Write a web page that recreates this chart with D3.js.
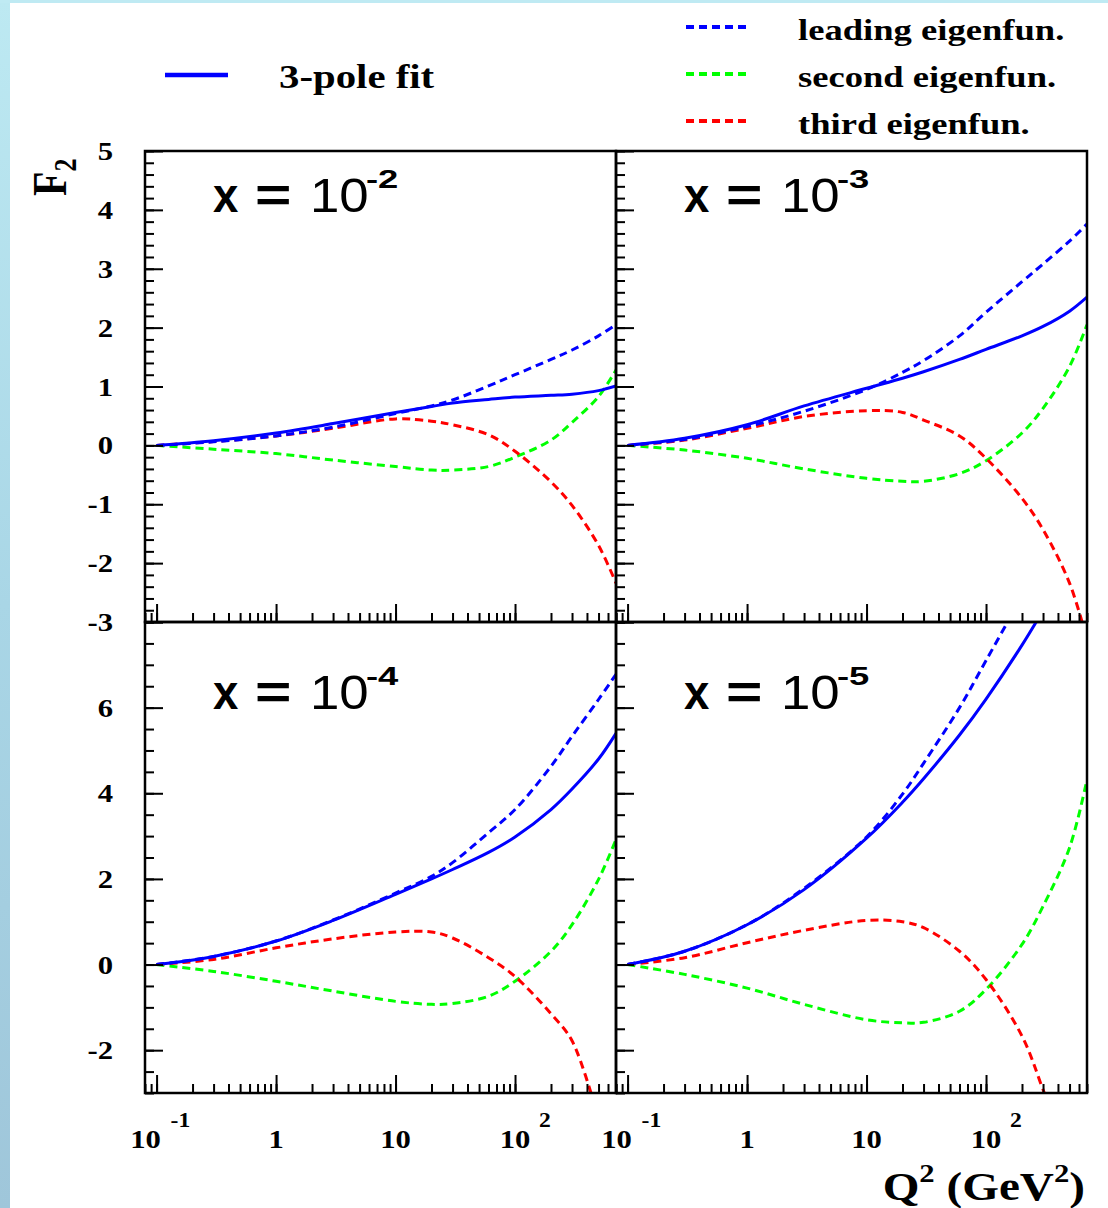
<!DOCTYPE html>
<html><head><meta charset="utf-8">
<script src="https://cdn.jsdelivr.net/npm/d3@7"></script>
<style>body{margin:0;background:#fff;} svg{display:block;}</style>
</head><body><svg id="c" width="1108" height="1208"></svg>
<script>
// ---------- data ----------
const Q2 = [0.1, 0.3, 1, 3, 10, 20, 30, 60, 100, 200, 300, 500, 700];

// x = 10^-2
const fitA   = [0, 0.08, 0.21, 0.37, 0.56, 0.66, 0.72, 0.78, 0.82, 0.85, 0.87, 0.93, 1.01];
const leadA  = [0, 0.06, 0.16, 0.31, 0.54, 0.67, 0.77, 1.01, 1.20, 1.46, 1.62, 1.86, 2.05];
const secA   = [0, -0.065, -0.14, -0.25, -0.36, -0.42, -0.42, -0.36, -0.20, 0.09, 0.39, 0.83, 1.28];
const thirdA = [0, 0.065, 0.16, 0.29, 0.45, 0.41, 0.35, 0.18, -0.10, -0.62, -1.02, -1.70, -2.34];
// x = 10^-3
const fitB   = [0, 0.12, 0.35, 0.67, 0.97, 1.14, 1.25, 1.46, 1.63, 1.86, 2.02, 2.28, 2.52];
const leadB  = [0, 0.10, 0.32, 0.58, 0.95, 1.24, 1.44, 1.86, 2.26, 2.78, 3.08, 3.47, 3.76];
const secB   = [0, -0.08, -0.22, -0.40, -0.56, -0.61, -0.61, -0.48, -0.26, 0.21, 0.63, 1.34, 2.05];
const thirdB = [0, 0.09, 0.29, 0.49, 0.59, 0.56, 0.43, 0.16, -0.22, -0.90, -1.43, -2.34, -3.3];
// x = 10^-4
const fitC   = [0, 0.19, 0.55, 1.03, 1.64, 2.00, 2.22, 2.62, 2.98, 3.62, 4.10, 4.80, 5.40];
const leadC  = [0, 0.19, 0.55, 1.04, 1.67, 2.06, 2.38, 3.08, 3.62, 4.63, 5.33, 6.19, 6.78];
const secC   = [0, -0.16, -0.39, -0.62, -0.86, -0.93, -0.91, -0.74, -0.39, 0.31, 0.93, 1.99, 2.92];
const thirdC = [0, 0.12, 0.39, 0.60, 0.76, 0.76, 0.62, 0.16, -0.28, -1.15, -1.78, -3.6, null];
// x = 10^-5
const fitD   = [0, 0.31, 0.93, 1.75, 2.95, 3.79, 4.34, 5.36, 6.20, 7.46, 8.27, null, null];
const leadD  = [0, 0.31, 0.93, 1.78, 2.98, 3.98, 4.70, 6.00, 7.10, 8.60, null, null, null];
const secD   = [0, -0.23, -0.55, -0.93, -1.29, -1.36, -1.35, -1.09, -0.58, 0.47, 1.36, 2.73, 4.32];
const thirdD = [0, 0.16, 0.51, 0.80, 1.03, 1.00, 0.86, 0.31, -0.35, -1.67, -2.92, -4.6, null];

const panelExp = ["-2", "-3", "-4", "-5"];
const legendSolid = ["3-pole fit"];
const legendDashed = ["leading eigenfun.", "second eigenfun.", "third eigenfun."];
const topYTickLabels = [-3, -2, -1, 0, 1, 2, 3, 4, 5];
const bottomYTickLabels = [-2, 0, 2, 4, 6];
const xTickLabels = [
  {v: 0.1, base: "10", sup: "-1"},
  {v: 1, base: "1", sup: ""},
  {v: 10, base: "10", sup: ""},
  {v: 100, base: "10", sup: "2"}
];

// ---------- drawing ----------
const svg = d3.select("#c");
const SERIF = "'Liberation Serif','Times New Roman',serif";
const SANS = "'Liberation Sans',Arial,sans-serif";
const colors = {fit: "#0000ff", lead: "#0000ff", sec: "#00ff00", third: "#ff0000"};

const defs = svg.append("defs");
const lg = defs.append("linearGradient").attr("id", "side").attr("x1", 0).attr("y1", 0).attr("x2", 0).attr("y2", 1);
lg.append("stop").attr("offset", "0%").attr("stop-color", "#bde9f2");
lg.append("stop").attr("offset", "50%").attr("stop-color", "#a9d6e6");
lg.append("stop").attr("offset", "100%").attr("stop-color", "#9fc6da");
svg.append("rect").attr("width", 1108).attr("height", 1208).attr("fill", "#fff");
svg.append("rect").attr("x", 0).attr("y", 0).attr("width", 10).attr("height", 1208).attr("fill", "url(#side)");
svg.append("rect").attr("x", 0).attr("y", 0).attr("width", 1108).attr("height", 3).attr("fill", "#bfeaf3");

function txt(g, x, y, s, size, o = {}) {
  return g.append("text")
    .attr("transform", `translate(${x},${y}) scale(${o.sx || 1.18},1)`)
    .attr("font-family", o.family || SERIF)
    .attr("font-weight", o.weight || "bold")
    .attr("font-size", size)
    .attr("text-anchor", o.anchor || "start")
    .attr("fill", "#000")
    .text(s);
}

const colX = [145, 616], rowY = [151, 622], PW = 471, PH = 471;
const yDomains = [[-3, 5], [-3, 8]];
const yMinor = [d3.range(-30, 51, 2).map(v => v / 10), d3.range(-6, 17).map(v => v / 2)];
const yMajor = [d3.range(-3, 6), [-2, 0, 2, 4, 6, 8]];
const seriesSets = [
  {fit: fitA, lead: leadA, sec: secA, third: thirdA},
  {fit: fitB, lead: leadB, sec: secB, third: thirdB},
  {fit: fitC, lead: leadC, sec: secC, third: thirdC},
  {fit: fitD, lead: leadD, sec: secD, third: thirdD}
];

seriesSets.forEach((S, i) => {
  const col = i % 2, row = Math.floor(i / 2);
  const g = svg.append("g").attr("transform", `translate(${colX[col]},${rowY[row]})`);
  const x = d3.scaleLog().domain([0.08, 700]).range([0, PW]);
  const y = d3.scaleLinear().domain(yDomains[row]).range([PH, 0]);
  const clipId = "clip" + i;
  defs.append("clipPath").attr("id", clipId).append("rect").attr("width", PW).attr("height", PH);

  const line = d3.line()
    .defined(d => d[1] != null)
    .x(d => x(d[0])).y(d => y(d[1]))
    .curve(d3.curveCatmullRom.alpha(0.5));
  const cg = g.append("g").attr("clip-path", `url(#${clipId})`);
  ["sec", "third", "lead", "fit"].forEach(k => {
    cg.append("path")
      .attr("d", line(Q2.map((q, j) => [q, S[k][j]])))
      .attr("fill", "none").attr("stroke", colors[k])
      .attr("stroke-width", 3)
      .attr("stroke-dasharray", k === "fit" ? null : "8,5");
  });

  // ticks
  const xt = x.ticks();
  const xMaj = xt.filter(v => Math.abs(Math.log10(v) - Math.round(Math.log10(v))) < 1e-9);
  const styleAxis = a => { a.select(".domain").remove(); a.selectAll("line").attr("stroke", "#000").attr("stroke-width", 2); };
  g.append("g").attr("transform", `translate(0,${PH})`)
    .call(d3.axisBottom(x).tickValues(xt).tickSize(-9).tickFormat("")).call(styleAxis);
  g.append("g").attr("transform", `translate(0,${PH})`)
    .call(d3.axisBottom(x).tickValues(xMaj).tickSize(-18).tickFormat("")).call(styleAxis);
  g.append("g").call(d3.axisLeft(y).tickValues(yMinor[row]).tickSize(-9).tickFormat("")).call(styleAxis);
  g.append("g").call(d3.axisLeft(y).tickValues(yMajor[row]).tickSize(-18).tickFormat("")).call(styleAxis);

  g.append("rect").attr("width", PW).attr("height", PH)
    .attr("fill", "none").attr("stroke", "#000").attr("stroke-width", 2.5);

  // panel label  x = 10^-n
  const by = row === 0 ? 212 : 709;
  txt(g, 68, by - rowY[row], "x", 48, {family: SANS, weight: "bold", sx: 0.95});
  txt(g, 110, by - rowY[row], "=", 48, {family: SANS, weight: "bold", sx: 1.3});
  txt(g, 165, by - rowY[row], "10", 48, {family: SANS, weight: "normal", sx: 1.1});
  txt(g, 221, by - 24 - rowY[row], panelExp[i], 26, {family: SANS, weight: "bold", sx: 1.4});

  // y tick labels
  if (col === 0) {
    const labs = row === 0 ? topYTickLabels : bottomYTickLabels;
    labs.forEach(v => txt(svg, 113, rowY[row] + y(v) + 9, String(v), 26, {anchor: "end"}));
  }
  // x tick labels
  if (row === 1) {
    xTickLabels.forEach(t => {
      const px = colX[col] + x(t.v);
      if (t.sup === "-1") {
        txt(svg, px - 11, 1148, t.base, 26, {anchor: "middle"});
        txt(svg, px + 14, 1127, t.sup, 20);
      } else if (t.sup) {
        txt(svg, px, 1148, t.base, 26, {anchor: "middle"});
        txt(svg, px + 24, 1127, t.sup, 20);
      } else {
        txt(svg, px, 1148, t.base, 26, {anchor: "middle"});
      }
    });
  }
});

// axis titles
const qt = svg.append("text")
  .attr("transform", "translate(1085,1200) scale(1.18,1)")
  .attr("font-family", SERIF).attr("font-weight", "bold").attr("font-size", 40)
  .attr("text-anchor", "end");
qt.append("tspan").text("Q");
qt.append("tspan").attr("font-size", 26).attr("dy", -18).text("2");
qt.append("tspan").attr("dy", 18).text(" (GeV");
qt.append("tspan").attr("font-size", 26).attr("dy", -18).text("2");
qt.append("tspan").attr("dy", 18).text(")");

const ft = svg.append("text")
  .attr("transform", "translate(66,196) rotate(-90) scale(1,1.2)")
  .attr("font-family", SERIF).attr("font-weight", "bold").attr("font-size", 40);
ft.append("tspan").text("F");
ft.append("tspan").attr("font-size", 26).attr("dy", 8).text("2");

// legend
svg.append("line").attr("x1", 165).attr("x2", 228).attr("y1", 75).attr("y2", 75)
  .attr("stroke", colors.fit).attr("stroke-width", 4.5);
txt(svg, 279, 88, legendSolid[0], 34, {sx: 1.2});
const legColors = [colors.lead, colors.sec, colors.third];
const legY = [27, 74, 121];
legendDashed.forEach((s, k) => {
  svg.append("line").attr("x1", 686).attr("x2", 746).attr("y1", legY[k]).attr("y2", legY[k])
    .attr("stroke", legColors[k]).attr("stroke-width", 4).attr("stroke-dasharray", "8,5");
  txt(svg, 798, legY[k] + 13, s, 30, {sx: 1.22});
});
</script></body></html>
